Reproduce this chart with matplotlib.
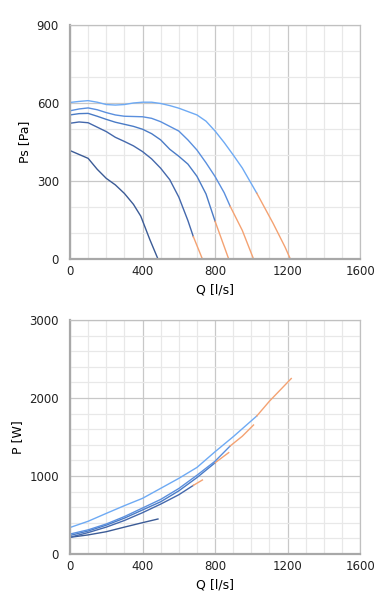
import numpy as np
import matplotlib
matplotlib.use("Agg")
import matplotlib.pyplot as plt
from matplotlib.ticker import MultipleLocator

# --- data: fan curves, static pressure ---
ps_q = [
    [0, 50, 100, 150, 200, 250, 300, 350, 390, 440, 485],
    [0, 50, 100, 150, 200, 250, 300, 350, 400, 450, 500, 550, 600, 650, 680, 730],
    [0, 50, 100, 150, 200, 250, 300, 350, 400, 450, 500, 550, 600, 650, 700, 750, 800, 875],
    [0, 50, 100, 150, 200, 250, 300, 350, 400, 450, 500, 550, 600, 650, 700, 750, 800, 850, 883, 950, 1012],
    [0, 50, 100, 150, 200, 250, 300, 350, 400, 450, 500, 550, 600, 650, 700, 750, 800, 850, 900, 950, 1030, 1120, 1185, 1215],
]
ps_val = [
    [417, 402, 387, 345, 310, 285, 252, 210, 165, 75, 0],
    [522, 527, 524, 507, 490, 468, 452, 435, 413, 385, 349, 305, 238, 148, 86, 0],
    [554, 559, 560, 549, 537, 526, 518, 510, 499, 482, 458, 422, 395, 365, 318, 250, 145, 0],
    [570, 577, 581, 574, 563, 554, 549, 548, 547, 541, 528, 510, 492, 458, 419, 370, 317, 255, 203, 110, 0],
    [602, 606, 609, 603, 594, 592, 594, 600, 603, 603, 598, 590, 580, 567, 554, 530, 492, 448, 400, 350, 253, 137, 47, 0],
]

# --- absorbed power ---
p_q = [
    [0, 100, 200, 300, 400, 485],
    [0, 100, 200, 300, 400, 500, 600, 680, 730],
    [0, 100, 200, 300, 400, 500, 600, 700, 800, 875],
    [0, 100, 200, 300, 400, 500, 600, 700, 800, 883, 950, 1012],
    [0, 100, 200, 300, 400, 500, 600, 700, 800, 900, 1030, 1100, 1220],
]
p_val = [
    [214, 245, 286, 345, 402, 449],
    [215, 275, 345, 430, 530, 640, 760, 880, 949],
    [238, 295, 370, 460, 565, 670, 810, 980, 1170, 1300],
    [256, 310, 385, 480, 590, 700, 840, 1010, 1190, 1385, 1510, 1654],
    [340, 420, 521, 620, 714, 842, 970, 1110, 1312, 1504, 1770, 1960, 2250],
]

# flow where each curve turns orange (None = stays blue)
orange_from = [None, 680, 800, 883, 1030]

blues = ["#3b5b96", "#4468ac", "#4a7bc6", "#5a8fde", "#6eaaf4"]
orange = "#f4a272"


def draw(ax, qs, vals):
    for q, v, qo, c in zip(qs, vals, orange_from, blues):
        q = np.array(q); v = np.array(v)
        if qo is None:
            ax.plot(q, v, color=c, lw=1.0)
        else:
            m = q <= qo
            ax.plot(q[m], v[m], color=c, lw=1.0)
            m2 = q >= qo
            ax.plot(q[m2], v[m2], color=orange, lw=1.0)


def style(ax, ymax, ymaj, ymin, ylabel):
    ax.set_xlim(0, 1600)
    ax.set_ylim(0, ymax)
    ax.xaxis.set_major_locator(MultipleLocator(400))
    ax.xaxis.set_minor_locator(MultipleLocator(100))
    ax.yaxis.set_major_locator(MultipleLocator(ymaj))
    ax.yaxis.set_minor_locator(MultipleLocator(ymin))
    ax.grid(which="major", color="#c8c8c8", lw=0.9)
    ax.grid(which="minor", color="#e8e8e8", lw=0.9)
    ax.set_axisbelow(True)
    ax.tick_params(which="both", length=0, labelsize=8.5, colors="#222222")
    ax.tick_params(axis="y", pad=8)
    ax.tick_params(axis="x", pad=4)
    for s in ["top", "right"]:
        ax.spines[s].set_color("#c0c0c0")
        ax.spines[s].set_linewidth(0.9)
    for s in ["left", "bottom"]:
        ax.spines[s].set_color("#a8a8a8")
        ax.spines[s].set_linewidth(1.6)
    ax.set_xlabel("Q [l/s]", fontsize=9, labelpad=4)
    ax.set_ylabel(ylabel, fontsize=9, labelpad=4)


fig = plt.figure(figsize=(3.9, 6.02), dpi=100)
ax1 = fig.add_axes([0.1795, 0.5698, 0.744, 0.3887])
ax2 = fig.add_axes([0.1795, 0.0797, 0.744, 0.3887])

draw(ax1, ps_q, ps_val)
style(ax1, 900, 300, 100, "Ps [Pa]")

draw(ax2, p_q, p_val)
style(ax2, 3000, 1000, 200, "P [W]")

fig.savefig("out.png", dpi=100)
